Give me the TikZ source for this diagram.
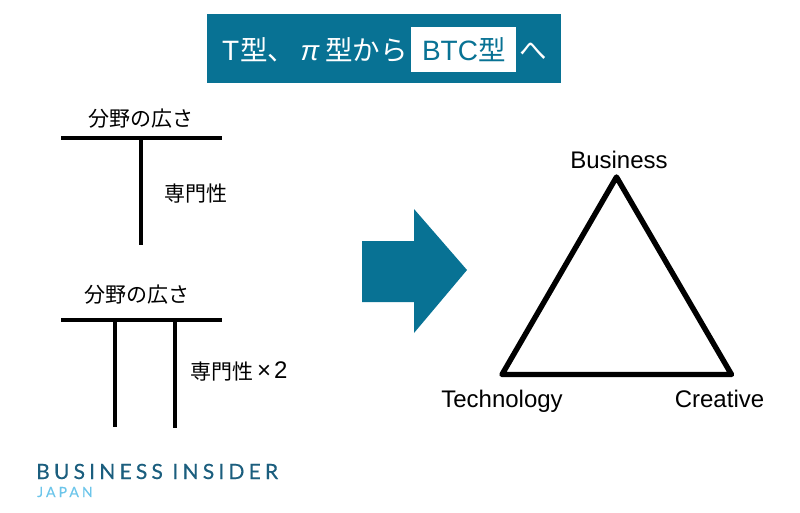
\documentclass[tikz,border=0pt]{standalone}
\usepackage{fontspec}
\setmainfont{Liberation Sans}
\newfontfamily\jp{Noto Sans CJK JP}
\newfontfamily\logofont{Lato}
\definecolor{teal1}{HTML}{087294}
\definecolor{logoblue}{HTML}{1B5E7E}
\definecolor{logolight}{HTML}{6CC5EA}
\tikzset{
 lbl/.style={inner sep=0pt,outer sep=0pt,text=black,anchor=base west,font=\jp\fontsize{21}{24}\selectfont},
 en/.style={inner sep=0pt,outer sep=0pt,text=black,anchor=base,font=\fontsize{24}{27}\selectfont},
 ttl/.style={inner sep=0pt,outer sep=0pt,text=white,anchor=base west,font=\jp\fontsize{27.5}{30}\selectfont},
 ttlen/.style={inner sep=0pt,outer sep=0pt,text=white,anchor=base west,font=\fontsize{28}{30}\selectfont},
 hbar/.style={line width=3.9pt,black},
 bar/.style={line width=3.4pt,black},
 tri/.style={line width=5.4pt,black,line join=round},
}
\begin{document}
\begin{tikzpicture}[x=1pt,y=-1pt]
\useasboundingbox (0,0) rectangle (800,512);
% header
\node[fill=teal1,minimum width=354pt,minimum height=69pt,inner sep=0pt,anchor=north west] (hdr) at (207,14) {};
\node[fill=white,minimum width=105pt,minimum height=45pt,inner sep=0pt,anchor=north west] (hbox) at (411,27) {};
\node[ttlen] (t0) at (222,60) {T};
\node[ttl] (t1) at (240,60) {型、};
\node[ttlen,font=\itshape\fontsize{28}{30}\selectfont] (t2) at (300.5,60) {π};
\node[ttl] (t3) at (325,60) {型から};
\node[ttlen,text=teal1] (t4) at (422,60) {BTC};
\node[ttl,text=teal1] (t4b) at (478,60) {型};
\node[ttl] (t5) at (519,60) {へ};
% T shape
\coordinate (a1) at (61,138); \coordinate (a2) at (222,138);
\coordinate (a3) at (141,138); \coordinate (a4) at (141,245);
\draw[bar] (a3) -- (a4);
\draw[hbar] (a1) -- (a2);
\node[lbl] (l1) at (88,126) {分野の広さ};
\node[lbl] (l2) at (164,201) {専門性};
% pi shape
\coordinate (b1) at (61,320); \coordinate (b2) at (222,320);
\coordinate (b3) at (115,320); \coordinate (b4) at (115,427);
\coordinate (b5) at (175,320); \coordinate (b6) at (175,428);
\draw[bar] (b3) -- (b4);
\draw[bar] (b5) -- (b6);
\draw[hbar] (b1) -- (b2);
\node[lbl] (l3) at (84,302) {分野の広さ};
\node[lbl] (l4) at (190,379) {専門性};
\node[en,anchor=base west] (l5) at (257,378) {×};
\node[en,anchor=base west] (l6) at (274,378) {2};
% arrow
\fill[teal1] (362,241) -- (414,241) -- (414,209) -- (467,270) -- (414,333) -- (414,302) -- (362,302) -- cycle;
% triangle
\coordinate (c1) at (616.5,177); \coordinate (c2) at (502,374.5); \coordinate (c3) at (731.5,374.5);
\draw[tri] (c1) -- (c2) -- (c3) -- cycle;
\node[en] (n1) at (619,168) {Business};
\node[en] (n2) at (502,407) {Technology};
\node[en] (n3) at (719.5,407) {Creative};
% logo
\node[inner sep=0pt,anchor=base west,text=logoblue,font=\logofont\fontsize{21}{26}\selectfont] (logo1) at (36,479) {\addfontfeature{LetterSpace=20,FakeBold=0.35}BUSINESS INSIDER};
\node[inner sep=0pt,anchor=base west,text=logolight,font=\logofont\fontsize{14}{16}\selectfont] (logo2) at (37,497) {\addfontfeature{LetterSpace=22,FakeBold=0.2}JAPAN};
\end{tikzpicture}
\end{document}
